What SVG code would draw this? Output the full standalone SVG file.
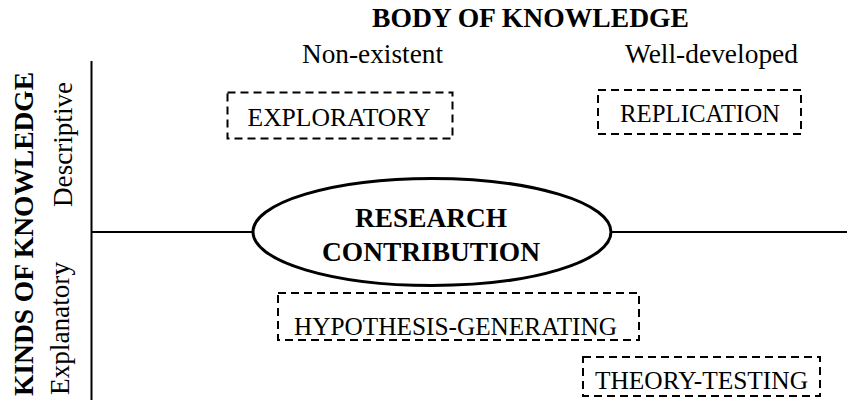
<svg xmlns="http://www.w3.org/2000/svg" width="847" height="400" viewBox="0 0 847 400">
  <style>
    text { font-family: "Liberation Serif", "Times New Roman", serif; fill: #000; }
    .head { font-size: 27px; }
    .bold { font-weight: bold; }
    .box-label { font-size: 25px; text-anchor: middle; }
    .dashed { fill: none; stroke: #000; stroke-width: 2; stroke-dasharray: 8 5; }
    .axis { stroke: #000; stroke-width: 2; fill: none; }
  </style>
  <rect width="847" height="400" fill="#fff"/>

  <!-- axis headings -->
  <g id="headings">
    <text class="head bold" x="530.5" y="27" text-anchor="middle" textLength="317" lengthAdjust="spacingAndGlyphs">BODY OF KNOWLEDGE</text>
    <text class="head" x="302" y="63" textLength="141" lengthAdjust="spacingAndGlyphs">Non-existent</text>
    <text class="head" x="625" y="63" textLength="173" lengthAdjust="spacingAndGlyphs">Well-developed</text>
    <text class="head bold" transform="translate(33,234) rotate(-90)" text-anchor="middle" textLength="324" lengthAdjust="spacingAndGlyphs">KINDS OF KNOWLEDGE</text>
    <text class="head" transform="translate(71.5,144.5) rotate(-90)" text-anchor="middle" textLength="125" lengthAdjust="spacingAndGlyphs">Descriptive</text>
    <text class="head" transform="translate(68.5,328.5) rotate(-90)" text-anchor="middle" textLength="133" lengthAdjust="spacingAndGlyphs">Explanatory</text>
  </g>

  <!-- axes -->
  <g id="connectors">
    <line class="axis" x1="91.5" y1="61" x2="91.5" y2="400"/>
    <line class="axis" x1="91.5" y1="232" x2="847" y2="232"/>
  </g>

  <!-- central node -->
  <g id="research-contribution">
    <ellipse cx="432" cy="232" rx="179" ry="53.5" fill="#fff" stroke="#000" stroke-width="3"/>
    <text class="bold" x="431" y="227" font-size="27" text-anchor="middle" textLength="152" lengthAdjust="spacingAndGlyphs">RESEARCH</text>
    <text class="bold" x="431" y="261" font-size="27" text-anchor="middle" textLength="218" lengthAdjust="spacingAndGlyphs">CONTRIBUTION</text>
  </g>

  <g id="exploratory">
    <rect class="dashed" x="227.5" y="92.5" width="225" height="46"/>
    <text class="box-label" x="339" y="126" textLength="183" lengthAdjust="spacingAndGlyphs">EXPLORATORY</text>
  </g>

  <g id="replication">
    <rect class="dashed" x="598" y="90" width="203" height="44"/>
    <text class="box-label" x="700" y="122" textLength="160" lengthAdjust="spacingAndGlyphs">REPLICATION</text>
  </g>

  <g id="hypothesis-generating">
    <rect class="dashed" x="278" y="293" width="361" height="47"/>
    <text class="box-label" x="455.5" y="335" textLength="323" lengthAdjust="spacingAndGlyphs">HYPOTHESIS-GENERATING</text>
  </g>

  <g id="theory-testing">
    <rect class="dashed" x="583" y="357" width="237" height="39"/>
    <text class="box-label" x="701.5" y="389" textLength="213" lengthAdjust="spacingAndGlyphs">THEORY-TESTING</text>
  </g>
</svg>
